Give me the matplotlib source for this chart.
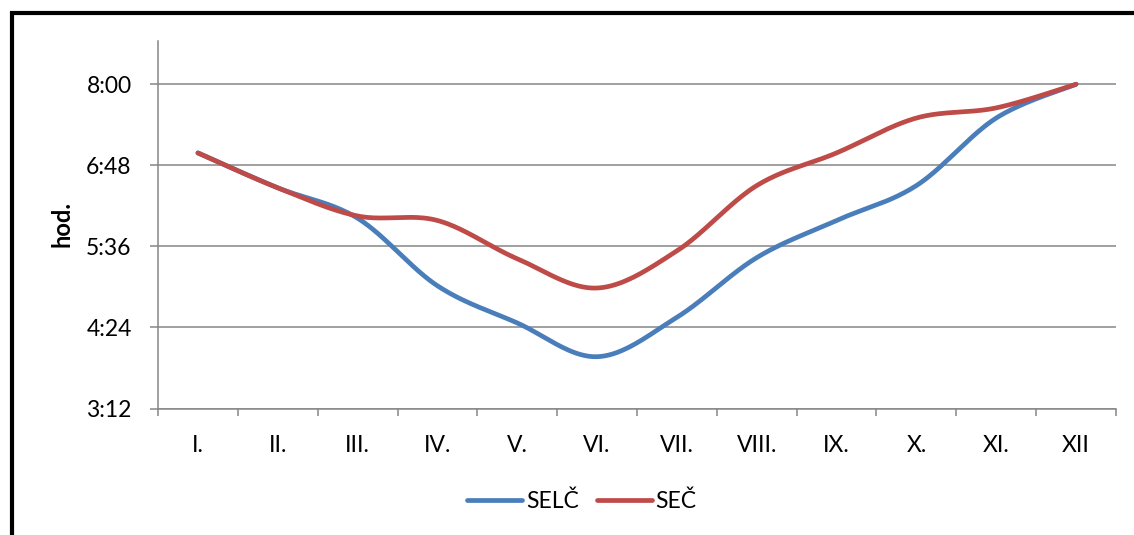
import numpy as np
import matplotlib
matplotlib.use("Agg")
import matplotlib.pyplot as plt
from matplotlib.ticker import FuncFormatter, FixedLocator
from matplotlib.lines import Line2D
from matplotlib.patches import Rectangle

months = ["I.", "II.", "III.", "IV.", "V.", "VI.", "VII.", "VIII.", "IX.", "X.", "XI.", "XII"]
# values in minutes after midnight
selc = [419, 388, 361, 301, 268, 238, 273, 326, 359, 390, 450, 480]
sec = [419, 388, 363, 359, 325, 299, 332, 390, 419, 450, 459, 480]
series_names = ["SELČ", "SEČ"]
colors = ["#4A7EBB", "#BE4B48"]
y_min, y_max, y_step = 192, 518.4, 72

plt.rcParams['font.family'] = ['Lato', 'DejaVu Sans']
FS = 16.5

def smooth(y, n=40):
    """Excel-like smoothed line (Catmull-Rom Bezier) through the points."""
    x = np.arange(len(y), dtype=float)
    y = np.asarray(y, dtype=float)
    P = np.column_stack([x, y])
    out = []
    for i in range(len(P) - 1):
        p0 = P[i - 1] if i > 0 else P[i]
        p1 = P[i]
        p2 = P[i + 1]
        p3 = P[i + 2] if i + 2 < len(P) else P[i + 1]
        c1 = p1 + (p2 - p0) / 6.0
        c2 = p2 - (p3 - p1) / 6.0
        t = np.linspace(0, 1, n)[:, None]
        seg = ((1 - t) ** 3) * p1 + 3 * ((1 - t) ** 2) * t * c1 + 3 * (1 - t) * t ** 2 * c2 + t ** 3 * p2
        out.append(seg if i == 0 else seg[1:])
    S = np.vstack(out)
    return S[:, 0], S[:, 1]

W, H = 1134, 535
fig = plt.figure(figsize=(W / 100, H / 100), dpi=100)
fig.patch.set_facecolor("white")

L, R, T, B = 158, 1116, 41, 408.5
ax = fig.add_axes([L / W, (H - B) / H, (R - L) / W, (B - T) / H])

gray = "#868686"
for i, (vals, name, c) in enumerate(zip([selc, sec], series_names, colors)):
    xs, ys = smooth(vals)
    ax.plot(xs, ys, color=c, lw=3.4, solid_capstyle="round", solid_joinstyle="round",
            label=name, zorder=3 + i)

ax.set_xlim(-0.5, len(months) - 0.5)
ax.set_ylim(y_min, y_max)

yt = np.arange(y_min, 481, y_step)
ax.yaxis.set_major_locator(FixedLocator(yt))
ax.yaxis.set_major_formatter(FuncFormatter(lambda v, p: f"{int(round(v)) // 60}:{int(round(v)) % 60:02d}"))
ax.set_xticks(np.arange(len(months)))
ax.set_xticklabels(months)
ax.set_xticks(np.arange(len(months) + 1) - 0.5, minor=True)

ax.grid(axis="y", color=gray, lw=1.1, zorder=1)
ax.set_axisbelow(True)
for s in ["top", "right"]:
    ax.spines[s].set_visible(False)
for s in ["left", "bottom"]:
    ax.spines[s].set_color(gray)
    ax.spines[s].set_linewidth(1.1)

ax.tick_params(axis="y", direction="out", length=6, width=1.1, color=gray, pad=13,
               labelsize=FS, labelcolor="black")
ax.tick_params(axis="x", which="major", length=0, pad=19, labelsize=FS, labelcolor="black")
ax.tick_params(axis="x", which="minor", direction="out", length=5, width=1.1, color=gray)

fig.text(62 / W, 1 - 224.5 / H, "hod.", rotation=90, ha="center", va="center",
         fontsize=17, fontweight="bold")

handles = [Line2D([], [], color=c, lw=3.4, solid_capstyle="round") for c in colors]
fig.legend(handles, series_names, loc="center", bbox_to_anchor=(582 / W, 1 - 501 / H),
           ncol=2, frameon=False, fontsize=FS, handlelength=2.4, handletextpad=0.15,
           columnspacing=0.8)

# outer frame (only left and top edges visible in the crop)
fig.add_artist(Rectangle((11.5 / W, -0.1), 1.2, 1 - 13 / H + 0.1, transform=fig.transFigure,
                         fill=False, edgecolor="black", lw=3.0))

fig.savefig("out.png", dpi=100, facecolor="white")
